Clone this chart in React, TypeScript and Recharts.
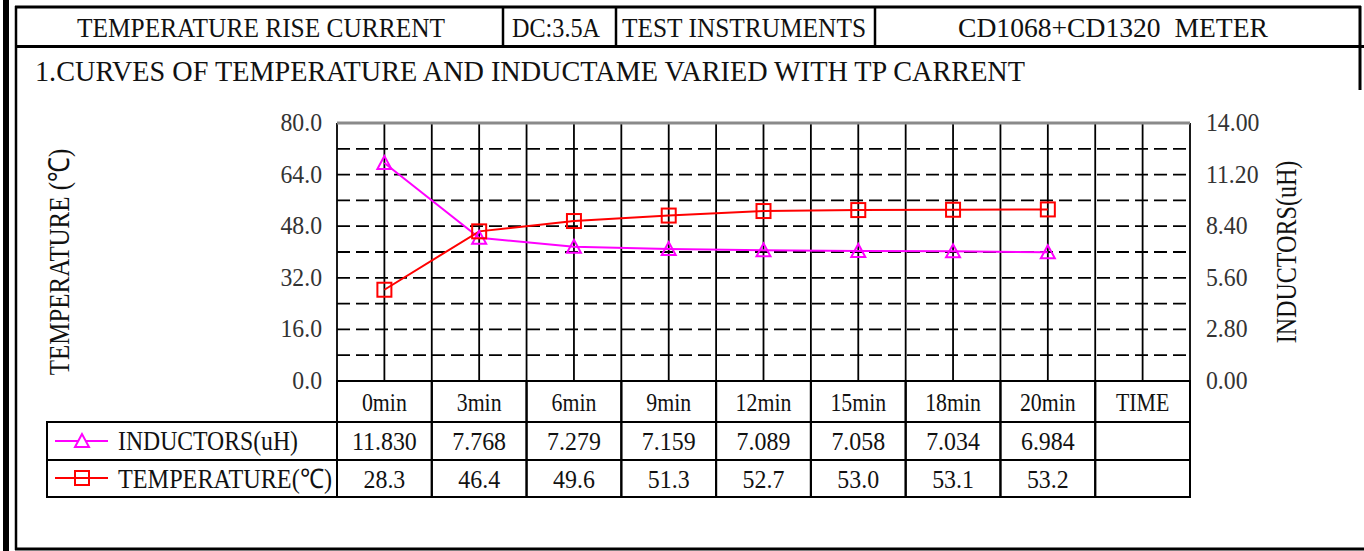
import React from "react";
import {
	LineChart,
	Line,
	XAxis,
	YAxis,
	CartesianGrid,
	ReferenceLine,
} from "recharts";

const categories = ["0min", "3min", "6min", "9min", "12min", "15min", "18min", "20min", "TIME"];
const inductors = [11.83, 7.768, 7.279, 7.159, 7.089, 7.058, 7.034, 6.984, null];
const temperature = [28.3, 46.4, 49.6, 51.3, 52.7, 53.0, 53.1, 53.2, null];
const tempTicks = [0, 8, 16, 24, 32, 40, 48, 56, 64, 72, 80];
const inductTicks = [0, 2.8, 5.6, 8.4, 11.2, 14];
// vertical rules: every category edge and centre, in band units
const gridSteps = [0, 0.5, 1, 1.5, 2, 2.5, 3, 3.5, 4, 4.5, 5, 5.5, 6, 6.5, 7, 7.5, 8, 8.5, 9];
const seriesNames = ["INDUCTORS(uH)", "TEMPERATURE(℃)"];
const headerCells = ["TEMPERATURE RISE CURRENT", "DC:3.5A", "TEST INSTRUMENTS", "CD1068+CD1320  METER"];
const title = "1.CURVES OF TEMPERATURE AND INDUCTAME VARIED WITH TP CARRENT";
const leftTitle = "TEMPERATURE (℃)";

const rows = categories.map((c, i) => ({
	time: c,
	ind: inductors[i],
	temp: temperature[i],
}));

const W = 1364;
const H = 551;
const PLOT_L = 337;
const PLOT_R = 1190;
const PLOT_T = 123;
const PLOT_B = 381;
const BAND = (PLOT_R - PLOT_L) / categories.length;
const ROW1 = 41;
const ROW2 = 38;
const ROW3 = 37;
const FONT = "Liberation Serif, Times New Roman, serif";
const INK = "#111";
const MAGENTA = "#ff00ff";
const RED = "#ff0000";

// narrow serif text, the sheet uses a condensed face
const Narrow = ({ x, y, size, sx, anchor = "middle", fill = INK, rotate = 0, children }: any) => (
	<text
		transform={`translate(${x},${y}) rotate(${rotate}) scale(${sx},1)`}
		textAnchor={anchor}
		fontFamily={FONT}
		fontSize={size}
		fill={fill}
		stroke="none"
	>
		{children}
	</text>
);

const TriangleDot = (props: any) => {
	const { cx, cy, index } = props;
	if (cx == null || cy == null) return <g key={`t-${index}`} />;
	return (
		<polygon
			key={`t-${index}`}
			points={`${cx},${cy - 7} ${cx - 7},${cy + 6} ${cx + 7},${cy + 6}`}
			fill="none"
			stroke={MAGENTA}
			strokeWidth={2}
		/>
	);
};

const SquareDot = (props: any) => {
	const { cx, cy, index } = props;
	if (cx == null || cy == null) return <g key={`s-${index}`} />;
	return (
		<rect
			key={`s-${index}`}
			x={cx - 7}
			y={cy - 7}
			width={14}
			height={14}
			fill="none"
			stroke={RED}
			strokeWidth={2}
		/>
	);
};

const LeftTick = (props: any) => {
	const { x, y, payload } = props;
	const v = payload.value as number;
	if (v % 16 !== 0) return <g />;
	return <Narrow x={x} y={y + 8} size={25} sx={0.95} anchor="end" fill="#333">{v.toFixed(1)}</Narrow>;
};

const RightTick = (props: any) => {
	const { x, y, payload } = props;
	const v = payload.value as number;
	return <Narrow x={x} y={y + 8} size={25} sx={0.95} anchor="start" fill="#333">{v.toFixed(2)}</Narrow>;
};

// each x tick draws one column of the data table under the plot
const TableTick = (props: any) => {
	const { x, y, payload } = props;
	const i = categories.indexOf(payload.value);
	const left = x - BAND / 2;
	const ind = inductors[i];
	const tmp = temperature[i];
	return (
		<g>
			<rect x={left} y={y} width={BAND} height={ROW1} fill="none" stroke="#000" strokeWidth={2} />
			<Narrow x={x} y={y + 30} size={26} sx={0.84}>{payload.value}</Narrow>
			<rect x={left} y={y + ROW1} width={BAND} height={ROW2} fill="none" stroke="#000" strokeWidth={2} />
			<Narrow x={x} y={y + ROW1 + 28} size={26} sx={0.92}>{ind == null ? "" : ind.toFixed(3)}</Narrow>
			<rect x={left} y={y + ROW1 + ROW2} width={BAND} height={ROW3} fill="none" stroke="#000" strokeWidth={2} />
			<Narrow x={x} y={y + ROW1 + ROW2 + 28} size={26} sx={0.92}>{tmp == null ? "" : tmp.toFixed(1)}</Narrow>
		</g>
	);
};

const verticalRules = (args: any) => {
	const off = args && args.offset;
	const left = off && typeof off.left === "number" ? off.left : PLOT_L;
	const width = off && typeof off.width === "number" ? off.width : PLOT_R - PLOT_L;
	return gridSteps.map((s) => left + (s / categories.length) * width);
};

export default function App() {
	const legendTop = PLOT_B + ROW1;
	return (
		<div style={{ position: "absolute", left: 0, top: 0, width: W, height: H, background: "#fff" }}>
			<LineChart
				width={W}
				height={H}
				data={rows}
				margin={{ top: PLOT_T, right: 0, bottom: H - PLOT_B - (ROW1 + ROW2 + ROW3), left: 0 }}
			>
				<CartesianGrid
					yAxisId="left"
					vertical={false}
					stroke="#000"
					strokeWidth={1.8}
					strokeDasharray="13 6"
				/>
				<CartesianGrid
					yAxisId="left"
					horizontal={false}
					verticalCoordinatesGenerator={verticalRules}
					stroke="#000"
					strokeWidth={1.8}
				/>
				<XAxis
					dataKey="time"
					scale="band"
					interval={0}
					height={ROW1 + ROW2 + ROW3}
					tickSize={0}
					tickMargin={0}
					tickLine={false}
					axisLine={{ stroke: "#000", strokeWidth: 2 }}
					tick={<TableTick />}
				/>
				<YAxis
					yAxisId="left"
					width={PLOT_L}
					domain={[0, 80]}
					ticks={tempTicks}
					interval={0}
					tickLine={false}
					tickMargin={9}
					axisLine={false}
					tick={<LeftTick />}
				/>
				<YAxis
					yAxisId="right"
					orientation="right"
					width={W - PLOT_R}
					domain={[0, 14]}
					ticks={inductTicks}
					interval={0}
					tickLine={false}
					tickMargin={10}
					axisLine={false}
					tick={<RightTick />}
				/>
				<ReferenceLine yAxisId="left" y={80} stroke="#8a8a8a" strokeWidth={3} />
				<Line
					yAxisId="right"
					dataKey="ind"
					name={seriesNames[0]}
					type="linear"
					stroke={MAGENTA}
					strokeWidth={2}
					dot={TriangleDot}
					activeDot={false}
					isAnimationActive={false}
				/>
				<Line
					yAxisId="left"
					dataKey="temp"
					name={seriesNames[1]}
					type="linear"
					stroke={RED}
					strokeWidth={2}
					dot={SquareDot}
					activeDot={false}
					isAnimationActive={false}
				/>
			</LineChart>

			{/* sheet frame, header, titles and legend column */}
			<svg
				width={W}
				height={H}
				style={{ position: "absolute", left: 0, top: 0, pointerEvents: "none" }}
				fontFamily={FONT}
				fill={INK}
			>
				<rect x={3} y={0} width={6} height={H} fill="#000" />
				<line x1={16} y1={6} x2={16} y2={550} stroke="#000" strokeWidth={2.5} />
				<line x1={15} y1={7} x2={1361} y2={7} stroke="#000" strokeWidth={3} />
				<line x1={15} y1={46.5} x2={W} y2={46.5} stroke="#000" strokeWidth={3} />
				<line x1={1360} y1={6} x2={1360} y2={90} stroke="#000" strokeWidth={3} />
				<line x1={15} y1={549} x2={W} y2={549} stroke="#000" strokeWidth={3} />
				<line x1={503} y1={7} x2={503} y2={46} stroke="#000" strokeWidth={2.5} />
				<line x1={616} y1={7} x2={616} y2={46} stroke="#000" strokeWidth={2.5} />
				<line x1={875} y1={7} x2={875} y2={46} stroke="#000" strokeWidth={2.5} />

				<text x={77} y={37} fontSize={27} textLength={368} lengthAdjust="spacingAndGlyphs">{headerCells[0]}</text>
				<text x={512} y={37} fontSize={27} textLength={88} lengthAdjust="spacingAndGlyphs">{headerCells[1]}</text>
				<text x={622} y={37} fontSize={27} textLength={244} lengthAdjust="spacingAndGlyphs">{headerCells[2]}</text>
				<text x={958} y={37} fontSize={27} textLength={310} lengthAdjust="spacingAndGlyphs" style={{ whiteSpace: "pre" }}>{headerCells[3]}</text>

				<text x={35} y={81} fontSize={30} textLength={990} lengthAdjust="spacingAndGlyphs">{title}</text>

				<Narrow x={69} y={262} rotate={-90} size={29} sx={0.86}>{leftTitle}</Narrow>
				<Narrow x={1296} y={252} rotate={-90} size={29} sx={0.83}>{seriesNames[0]}</Narrow>

				<rect x={47} y={legendTop} width={PLOT_L - 47} height={ROW2} fill="none" stroke="#000" strokeWidth={2} />
				<rect x={47} y={legendTop + ROW2} width={PLOT_L - 47} height={ROW3} fill="none" stroke="#000" strokeWidth={2} />
				<line x1={55} y1={legendTop + 19} x2={108} y2={legendTop + 19} stroke={MAGENTA} strokeWidth={2} />
				<polygon
					points={`82,${legendTop + 12} 75,${legendTop + 25} 89,${legendTop + 25}`}
					fill="#fff"
					stroke={MAGENTA}
					strokeWidth={2}
				/>
				<line x1={55} y1={legendTop + ROW2 + 18} x2={108} y2={legendTop + ROW2 + 18} stroke={RED} strokeWidth={2} />
				<rect x={75} y={legendTop + ROW2 + 11} width={14} height={14} fill="none" stroke={RED} strokeWidth={2} />
				<text x={118} y={legendTop + 28} fontSize={27} textLength={180} lengthAdjust="spacingAndGlyphs">{seriesNames[0]}</text>
				<text x={118} y={legendTop + ROW2 + 28} fontSize={27} textLength={214} lengthAdjust="spacingAndGlyphs">{seriesNames[1]}</text>
			</svg>
		</div>
	);
}
